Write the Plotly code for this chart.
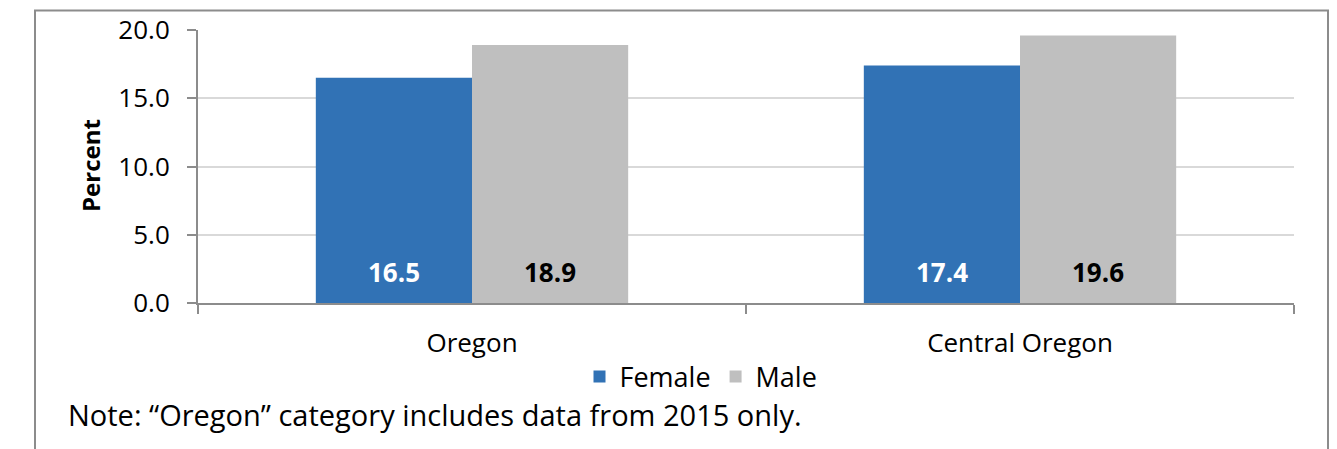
import plotly.graph_objects as go

# Data
regions = ["Oregon", "Central Oregon"]
female = [16.5, 17.4]
male = [18.9, 19.6]
y_ticks = [0, 5, 10, 15, 20]
note_text = "Note: \u201cOregon\u201d category includes data from 2015 only."

FONT = "Open Sans"
BLUE = "#3172B5"
GREY = "#BFBFBF"
AXIS_GREY = "#8C8C8C"
BARGAP = 0.43

W, H = 1337, 449
L, R, T, B = 198, 43, 30, 146
PW, PH = W - L - R, H - T - B


def px_x(p):
    return (p - L) / PW


def px_y(p):
    return (H - B - p) / PH


fig = go.Figure()
fig.add_trace(go.Bar(name="Female", x=regions, y=female, marker=dict(color=BLUE, line=dict(width=0))))
fig.add_trace(go.Bar(name="Male", x=regions, y=male, marker=dict(color=GREY, line=dict(width=0))))

# value labels near the base of each bar
half = (1 - BARGAP) / 4
for i, (f, m) in enumerate(zip(female, male)):
    fig.add_annotation(x=i - half, y=0, xref="x", yref="y", text=f"<b>{f:.1f}</b>",
                       showarrow=False, yanchor="middle", yshift=31,
                       font=dict(family=FONT, size=26, color="white"))
    fig.add_annotation(x=i + half, y=0, xref="x", yref="y", text=f"<b>{m:.1f}</b>",
                       showarrow=False, yanchor="middle", yshift=31,
                       font=dict(family=FONT, size=26, color="black"))

# y-axis title
fig.add_annotation(x=px_x(90), y=px_y(166), xref="paper", yref="paper", text="<b>Percent</b>",
                   textangle=-90, showarrow=False, xanchor="center", yanchor="middle",
                   font=dict(family=FONT, size=24, color="black"))

# footnote
fig.add_annotation(x=px_x(66), y=px_y(415), xref="paper", yref="paper", text=note_text,
                   showarrow=False, xanchor="left", yanchor="middle",
                   font=dict(family=FONT, size=29, color="black"))

# outer chart frame
fig.add_shape(type="rect", xref="paper", yref="paper",
              x0=px_x(35), x1=px_x(1328), y0=px_y(470), y1=px_y(10.5),
              line=dict(color=AXIS_GREY, width=2), fillcolor="rgba(0,0,0,0)", layer="below")

fig.update_layout(
    width=W, height=H,
    margin=dict(l=L, r=R, t=T, b=B, pad=0),
    paper_bgcolor="white", plot_bgcolor="white",
    barmode="group", bargap=BARGAP, bargroupgap=0,
    font=dict(family=FONT, color="black"),
    showlegend=True,
    legend=dict(orientation="h", x=px_x(701), y=px_y(377), xanchor="center", yanchor="middle",
                font=dict(family=FONT, size=27, color="black"),
                itemclick=False, bgcolor="rgba(0,0,0,0)"),
    xaxis=dict(showline=True, linecolor=AXIS_GREY, linewidth=2,
               ticks="outside", tickson="boundaries", ticklen=9, tickcolor=AXIS_GREY, tickwidth=2,
               tickfont=dict(family=FONT, size=26, color="black"),
               ticklabelstandoff=16, showgrid=False),
    yaxis=dict(range=[0, 20], tickvals=y_ticks, tickformat=".1f",
               showline=True, linecolor=AXIS_GREY, linewidth=2,
               ticks="outside", ticklen=9, tickcolor=AXIS_GREY, tickwidth=2,
               tickfont=dict(family=FONT, size=26, color="black"),
               ticklabelstandoff=12,
               showgrid=True, gridcolor="#D9D9D9", gridwidth=2, zeroline=False),
)

fig.write_html("out.html")
